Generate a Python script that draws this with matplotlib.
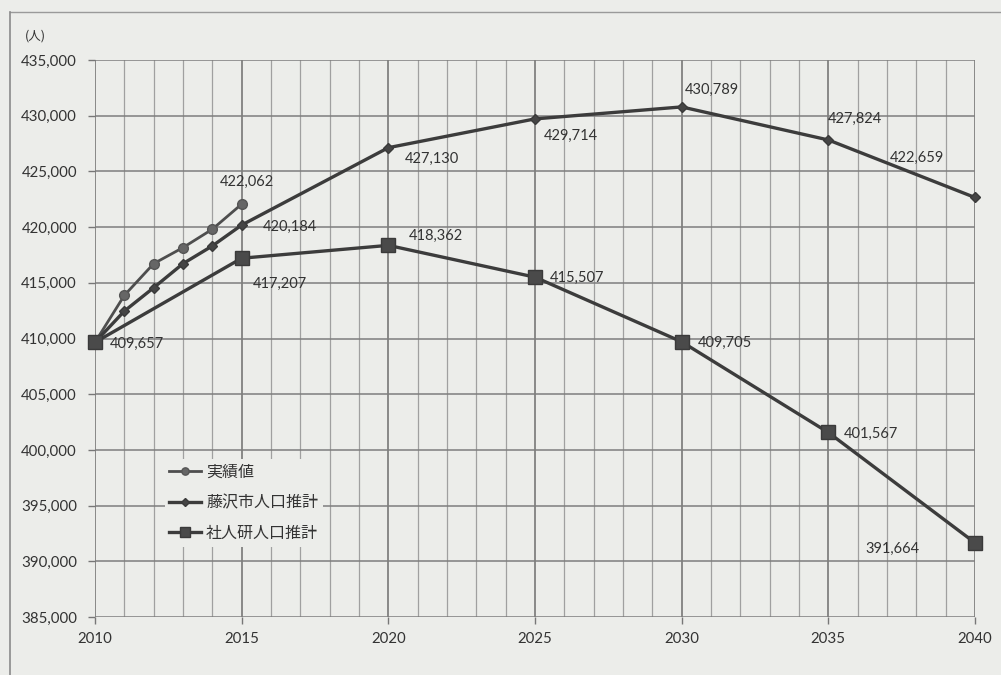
import matplotlib
matplotlib.use("Agg")
import matplotlib.pyplot as plt
from matplotlib.lines import Line2D
from matplotlib.ticker import FuncFormatter, MultipleLocator

plt.rcParams["font.family"] = ["Lato", "Noto Sans CJK JP", "DejaVu Sans"]

# Population data (persons)
actual_years = [2010, 2011, 2012, 2013, 2014, 2015]
actual_values = [409657, 413870, 416720, 418160, 419810, 422062]

city_years = [2010, 2011, 2012, 2013, 2014, 2015, 2020, 2025, 2030, 2035, 2040]
city_values = [409657, 412460, 414560, 416720, 418310, 420184,
               427130, 429714, 430789, 427824, 422659]

ipss_years = [2010, 2015, 2020, 2025, 2030, 2035, 2040]
ipss_values = [409657, 417207, 418362, 415507, 409705, 401567, 391664]

series_names = ["実績値", "藤沢市人口推計", "社人研人口推計"]
x_ticks = [2010, 2015, 2020, 2025, 2030, 2035, 2040]
y_min, y_max, y_step = 385000, 435000, 5000

BG = "#ecedea"
TXT = "#333333"

fig = plt.figure(figsize=(10.01, 6.75), dpi=100, facecolor=BG)
ax = fig.add_axes([0.0949, 0.0859, 0.8791, 0.8252], facecolor=BG)

# grid: every year vertically (5-year lines darker), every 5,000 horizontally
for yr in range(2010, 2041):
    major = (yr % 5 == 0)
    ax.axvline(yr, color="#6e6e6e" if major else "#a0a0a0",
               lw=1.1 if major else 0.9, zorder=0.5)
for v in range(y_min, y_max + 1, y_step):
    ax.axhline(v, color="#7e7e7e", lw=1.1, zorder=0.5)

line_col = "#3c3c3c"
l1, = ax.plot(actual_years, actual_values, color="#4e4e4e", lw=2.0,
              marker="o", ms=7, mfc="#666666", mec="#555555", zorder=3,
              clip_on=False, label=series_names[0])
l2, = ax.plot(city_years, city_values, color=line_col, lw=2.4,
              marker="D", ms=5.5, mfc="#454545", mec="#3a3a3a", zorder=3,
              clip_on=False, label=series_names[1])
l3, = ax.plot(ipss_years, ipss_values, color=line_col, lw=2.4,
              marker="s", ms=9.5, mfc="#4a4a4a", mec="#3a3a3a", zorder=4,
              clip_on=False, label=series_names[2])

# value labels: (series x, series y, pixel offset, alignment)
labels = [
    (ipss_years[0], ipss_values[0], (15, -2), "left"),
    (actual_years[-1], actual_values[-1], (5, 22), "center"),
    (city_years[5], city_values[5], (21, -2), "left"),
    (ipss_years[1], ipss_values[1], (11, -26), "left"),
    (city_years[6], city_values[6], (16, -11), "left"),
    (ipss_years[2], ipss_values[2], (20, 9), "left"),
    (city_years[7], city_values[7], (9, -17), "left"),
    (ipss_years[3], ipss_values[3], (15, -1), "left"),
    (city_years[8], city_values[8], (3, 17), "left"),
    (ipss_years[4], ipss_values[4], (16, -1), "left"),
    (city_years[9], city_values[9], (0, 21), "left"),
    (ipss_years[5], ipss_values[5], (16, -1), "left"),
    (city_years[10], city_values[10], (-85, 40), "left"),
    (ipss_years[6], ipss_values[6], (-110, -6), "left"),
]
for x, y, off, ha in labels:
    ax.annotate(f"{y:,}", xy=(x, y), xytext=off, textcoords="offset pixels",
                ha=ha, va="center", fontsize=10.5, color=TXT, zorder=6)

ax.set_xlim(2010, 2040)
ax.set_ylim(y_min, y_max)
ax.set_xticks(x_ticks)
ax.yaxis.set_major_locator(MultipleLocator(y_step))
ax.yaxis.set_major_formatter(FuncFormatter(lambda v, _: f"{int(v):,}"))
ax.tick_params(axis="both", colors="#777777", labelcolor=TXT, labelsize=10.8,
               length=5, width=1.0)
ax.tick_params(axis="x", pad=6)
ax.tick_params(axis="y", pad=8)
for s in ax.spines.values():
    s.set_visible(False)

ax.text(-0.080, 1.043, "(人)", transform=ax.transAxes, fontsize=9,
        color=TXT, ha="left", va="center",
        family=["Noto Sans CJK JP", "DejaVu Sans"])

leg = ax.legend(handles=[l1, l2, l3], loc="upper left",
                bbox_to_anchor=(0.07, 0.298), frameon=True, facecolor=BG,
                edgecolor="none", framealpha=1.0, handlelength=2.0,
                handletextpad=0.3, labelspacing=0.85, borderpad=0.3,
                markerscale=0.75,
                prop={"family": ["Noto Sans CJK JP", "DejaVu Sans"],
                      "size": 11.5})
for t in leg.get_texts():
    t.set_color(TXT)
leg.set_zorder(5)

# surrounding frame of the chart box
fig.add_artist(Line2D([0.010, 1.0], [0.982, 0.982], color="#9a9a9a",
                      lw=1.0, transform=fig.transFigure))
fig.add_artist(Line2D([0.010, 0.010], [0.0, 0.982], color="#8a8a8a",
                      lw=1.2, transform=fig.transFigure))

fig.savefig("out.png", dpi=100, facecolor=BG)
